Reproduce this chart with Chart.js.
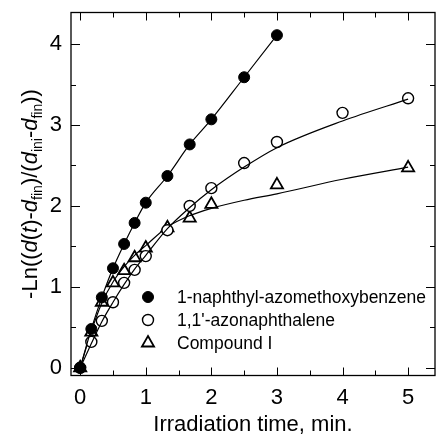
<!DOCTYPE html>
<html>
<head>
<meta charset="utf-8">
<script src="https://cdn.jsdelivr.net/npm/chart.js@4"></script>
<style>
  html, body { margin: 0; padding: 0; background: #fff; }
  canvas { display: block; }
</style>
</head>
<body>
<canvas id="chart" width="436" height="438"></canvas>
<script>
// measured points
const timesNaph = [0, 0.17, 0.33, 0.5, 0.67, 0.83, 1, 1.33, 1.67, 2, 2.5, 3];
const naph = [0, 0.48, 0.87, 1.23, 1.53, 1.79, 2.04, 2.37, 2.76, 3.07, 3.59, 4.11];

const timesAzo = [0, 0.17, 0.33, 0.5, 0.67, 0.83, 1, 1.33, 1.67, 2, 2.5, 3, 4, 5];
const azo = [0, 0.32, 0.58, 0.81, 1.05, 1.21, 1.38, 1.70, 2.00, 2.22, 2.53, 2.79, 3.15, 3.33];

const timesComp = [0, 0.17, 0.33, 0.5, 0.67, 0.83, 1, 1.33, 1.67, 2, 3, 5];
const comp = [0, 0.44, 0.81, 1.05, 1.20, 1.36, 1.48, 1.73, 1.85, 2.02, 2.26, 2.47];

// fitted curves
const fitTimes = [0, 0.17, 0.33, 0.5, 0.67, 0.83, 1, 1.33, 1.67, 2, 2.5, 3, 4, 5];
const fitAzo = [0, 0.30, 0.57, 0.81, 1.03, 1.22, 1.39, 1.72, 1.98, 2.20, 2.48, 2.72, 3.05, 3.32];
const fitComp = [0, 0.45, 0.80, 1.06, 1.25, 1.39, 1.51, 1.74, 1.88, 1.97, 2.07, 2.15, 2.33, 2.48];

const labels = ['1-naphthyl-azomethoxybenzene', '1,1\'-azonaphthalene', 'Compound I'];

const pts = (xs, ys) => xs.map((x, i) => ({x: x, y: ys[i]}));

const fontFam = '"Liberation Sans", Arial, sans-serif';

const frame = {
    id: 'frame',
    afterDraw(chart) {
        const ctx = chart.ctx;
        const a = chart.chartArea;
        const xs = chart.scales.x, ys = chart.scales.y;
        ctx.save();
        ctx.strokeStyle = '#000';
        ctx.lineWidth = 1.3;
        ctx.strokeRect(a.left, a.top, a.right - a.left, a.bottom - a.top);
        ctx.lineWidth = 1;
        ctx.beginPath();
        xs.ticks.forEach(t => {
            const p = Math.round(xs.getPixelForValue(t.value)) + 0.5;
            const len = Number.isInteger(t.value) ? 8 : 5;
            ctx.moveTo(p, a.bottom); ctx.lineTo(p, a.bottom - len);
            ctx.moveTo(p, a.top); ctx.lineTo(p, a.top + len);
        });
        ys.ticks.forEach(t => {
            const p = Math.round(ys.getPixelForValue(t.value)) + 0.5;
            const len = Number.isInteger(t.value) ? 9 : 5;
            ctx.moveTo(a.left, p); ctx.lineTo(a.left + len, p);
            ctx.moveTo(a.right, p); ctx.lineTo(a.right - len, p);
        });
        ctx.stroke();

        // y axis title with italics and subscripts
        const parts = [
            ['-Ln((', 'n'], ['d', 'i'], ['(', 'n'], ['t', 'i'], [')-', 'n'], ['d', 'i'], ['fin', 's'],
            [')/(', 'n'], ['d', 'i'], ['ini', 's'], ['-', 'n'], ['d', 'i'], ['fin', 's'], ['))', 'n']
        ];
        const fontFor = k => k === 'i' ? 'italic 22px ' + fontFam : (k === 's' ? '14px ' + fontFam : '22px ' + fontFam);
        let total = 0;
        parts.forEach(p => { ctx.font = fontFor(p[1]); total += ctx.measureText(p[0]).width; });
        ctx.translate(37, (a.top + a.bottom) / 2);
        ctx.rotate(-Math.PI / 2);
        ctx.fillStyle = '#000';
        ctx.textBaseline = 'alphabetic';
        let x = -total / 2;
        parts.forEach(p => {
            ctx.font = fontFor(p[1]);
            ctx.fillText(p[0], x, p[1] === 's' ? 5 : 0);
            x += ctx.measureText(p[0]).width;
        });
        ctx.restore();

        // legend inside the plot
        ctx.save();
        ctx.font = '17.5px ' + fontFam;
        ctx.textBaseline = 'middle';
        [0, 2, 4].forEach((di, row) => {
            const ds = chart.data.datasets[di];
            const y = 297 + row * 23;
            ctx.fillStyle = ds.pointBackgroundColor;
            ctx.strokeStyle = '#000';
            ctx.lineWidth = ds.pointBorderWidth;
            Chart.helpers.drawPoint(ctx, {pointStyle: ds.pointStyle, radius: ds.pointRadius, borderWidth: ds.pointBorderWidth}, 148, y);
            ctx.fillStyle = '#000';
            ctx.fillText(labels[row], 177, y + 1);
        });
        ctx.restore();
    }
};

new Chart(
    document.getElementById('chart'),
    {
        type: 'scatter',
        data: {
            datasets: [
                {
                    label: labels[0],
                    data: pts(timesNaph, naph),
                    showLine: true,
                    cubicInterpolationMode: 'monotone',
                    borderColor: '#000',
                    borderWidth: 1.2,
                    pointStyle: 'circle',
                    pointRadius: 5.5,
                    pointBackgroundColor: '#000',
                    pointBorderColor: '#000',
                    pointBorderWidth: 1,
                },
                {
                    label: 'fit azo',
                    data: pts(fitTimes, fitAzo),
                    showLine: true,
                    cubicInterpolationMode: 'monotone',
                    borderColor: '#000',
                    borderWidth: 1.2,
                    pointRadius: 0,
                },
                {
                    label: labels[1],
                    data: pts(timesAzo, azo),
                    pointStyle: 'circle',
                    pointRadius: 5.5,
                    pointBackgroundColor: '#fff',
                    pointBorderColor: '#000',
                    pointBorderWidth: 1.4,
                },
                {
                    label: 'fit comp',
                    data: pts(fitTimes, fitComp),
                    showLine: true,
                    cubicInterpolationMode: 'monotone',
                    borderColor: '#000',
                    borderWidth: 1.2,
                    pointRadius: 0,
                },
                {
                    label: labels[2],
                    data: pts(timesComp, comp),
                    pointStyle: 'triangle',
                    pointRadius: 7,
                    pointBackgroundColor: '#fff',
                    pointBorderColor: '#000',
                    pointBorderWidth: 1.8,
                }
            ]
        },
        options: {
            responsive: false,
            animation: false,
            layout: {autoPadding: false, padding: {left: 0, right: 1, top: 12.5, bottom: 0}},
            plugins: {legend: {display: false}, tooltip: {enabled: false}},
            scales: {
                x: {
                    type: 'linear',
                    min: -0.14,
                    max: 5.41,
                    afterFit: s => {
                        s.height = 62.5;
                        s.paddingLeft = 0; s.paddingRight = 0;
                    },
                    grid: {display: false, drawTicks: false},
                    border: {display: false},
                    ticks: {
                        stepSize: 0.5,
                        includeBounds: false,
                        maxRotation: 0,
                        autoSkip: false,
                        padding: 9,
                        color: '#000',
                        font: {size: 22, family: fontFam},
                        callback: v => Number.isInteger(v) ? v : ''
                    },
                    title: {
                        display: true,
                        text: 'Irradiation time, min.',
                        color: '#000',
                        font: {size: 22, family: fontFam},
                        padding: {top: 0, bottom: 0}
                    }
                },
                y: {
                    type: 'linear',
                    min: -0.095,
                    max: 4.39,
                    afterFit: s => {
                        s.width = 71;
                        s.paddingTop = 0; s.paddingBottom = 0;
                    },
                    grid: {display: false, drawTicks: false},
                    border: {display: false},
                    ticks: {
                        stepSize: 0.5,
                        includeBounds: false,
                        autoSkip: false,
                        padding: 9,
                        color: '#000',
                        font: {size: 22, family: fontFam},
                        callback: v => Number.isInteger(v) ? v : ''
                    }
                }
            }
        },
        plugins: [frame]
    }
);
</script>
</body>
</html>
